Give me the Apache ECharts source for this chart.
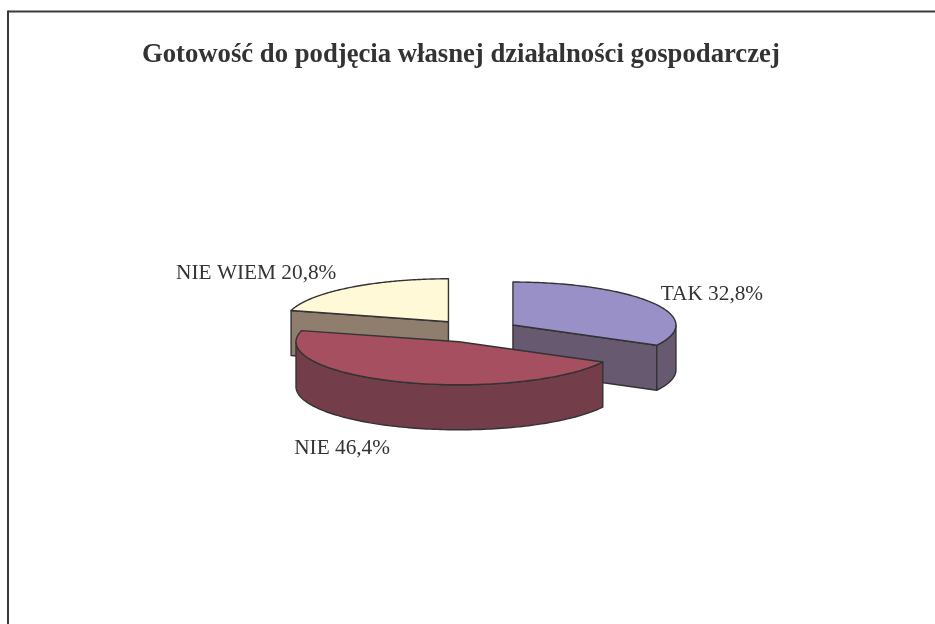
<!DOCTYPE html>
<html>
<head>
<meta charset="utf-8">
<style>html,body{margin:0;padding:0;background:#fff}#c{width:935px;height:624px}</style>
<script src="https://cdn.jsdelivr.net/npm/echarts@6/dist/echarts.min.js"></script>
</head>
<body>
<div id="c"></div>
<script>
const chartTitle = 'Gotowość do podjęcia własnej działalności gospodarczej';
const categories = ['TAK', 'NIE', 'NIE WIEM'];
const shareValues = [32.8, 46.4, 20.8];
const topColors = ['#9a90c8', '#a54f60', '#fff9d8'];
const wallColors = ['#675a70', '#733d49', '#8f7e6e'];

const PIE = {cx: 475.2, cy: 331, a: 163, b: 43, depth: 45, explode: 0.27};
const labelOffsets = [[8, -9, 'left'], [-9, 22, 'right'], [-13, -14, 'right']];
const INK = '#333333';
const FONT = '"Liberation Serif","Times New Roman",serif';

const total = shareValues.reduce((s, v) => s + v, 0);
let run = 0;
const slices = categories.map((name, i) => {
  const a0 = run / total * 2 * Math.PI;
  run += shareValues[i];
  const a1 = run / total * 2 * Math.PI;
  return {i, name, value: shareValues[i], a0, a1, mid: (a0 + a1) / 2};
});
// back slices are painted first
const paintOrder = slices.slice().sort((p, q) => Math.cos(q.mid) - Math.cos(p.mid));

const rim = (ox, oy, t) => [ox + PIE.a * Math.sin(t), oy - PIE.b * Math.cos(t)];

function renderSlice(params, api) {
  const s = paintOrder[api.value(0)];
  const ox = PIE.cx + PIE.explode * PIE.a * Math.sin(s.mid);
  const oy = PIE.cy - PIE.explode * PIE.b * Math.cos(s.mid);
  const d = PIE.depth;
  const style = c => ({fill: c, stroke: INK, lineWidth: 1.4, lineJoin: 'round'});
  const children = [];
  const face = t => {
    const p = rim(ox, oy, t);
    children.push({type: 'polygon', silent: true,
      shape: {points: [[ox, oy], p, [p[0], p[1] + d], [ox, oy + d]]},
      style: style(wallColors[s.i])});
  };
  if (Math.sin(s.a0) < -1e-6) face(s.a0);
  if (Math.sin(s.a1) > 1e-6) face(s.a1);
  // outer wall: the part of the rim that faces the viewer
  const from = Math.max(s.a0, Math.PI / 2), to = Math.min(s.a1, 3 * Math.PI / 2);
  if (to > from) {
    const top = [], bottom = [];
    for (let k = 0; k <= 120; k++) {
      const p = rim(ox, oy, from + (to - from) * k / 120);
      top.push(p);
      bottom.unshift([p[0], p[1] + d]);
    }
    children.push({type: 'polygon', silent: true, shape: {points: top.concat(bottom)},
      style: style(wallColors[s.i])});
  }
  const pts = [[ox, oy]];
  for (let k = 0; k <= 120; k++) pts.push(rim(ox, oy, s.a0 + (s.a1 - s.a0) * k / 120));
  children.push({type: 'polygon', silent: true, shape: {points: pts}, style: style(topColors[s.i])});
  // label
  const m = rim(ox, oy, s.mid);
  const front = Math.cos(s.mid) < 0;
  const off = labelOffsets[s.i];
  children.push({type: 'text', silent: true, z2: 50,
    x: m[0] + off[0], y: m[1] + (front ? d : 0) + off[1],
    style: {text: s.name + ' ' + s.value.toFixed(1).replace('.', ',') + '%',
      fill: INK, font: '21.3px ' + FONT, align: off[2], verticalAlign: 'middle'}});
  return {type: 'group', children};
}

const chart = echarts.init(document.getElementById('c'), null, {renderer: 'canvas'});
chart.setOption({
  animation: false,
  backgroundColor: '#ffffff',
  title: {text: chartTitle, left: 137, top: 37,
    textStyle: {fontFamily: FONT, fontWeight: 'bold', fontSize: 26.7, color: INK}},
  graphic: [
    {type: 'line', silent: true, shape: {x1: 8, y1: 11.5, x2: 935, y2: 11.5}, style: {stroke: '#3a3a3a', lineWidth: 2}},
    {type: 'line', silent: true, shape: {x1: 8, y1: 10.5, x2: 8, y2: 624}, style: {stroke: '#3a3a3a', lineWidth: 2}}
  ],
  series: [{
    type: 'custom',
    coordinateSystem: 'none',
    silent: true,
    renderItem: renderSlice,
    data: paintOrder.map((s, k) => [k, s.value])
  }]
});
</script>
</body>
</html>
